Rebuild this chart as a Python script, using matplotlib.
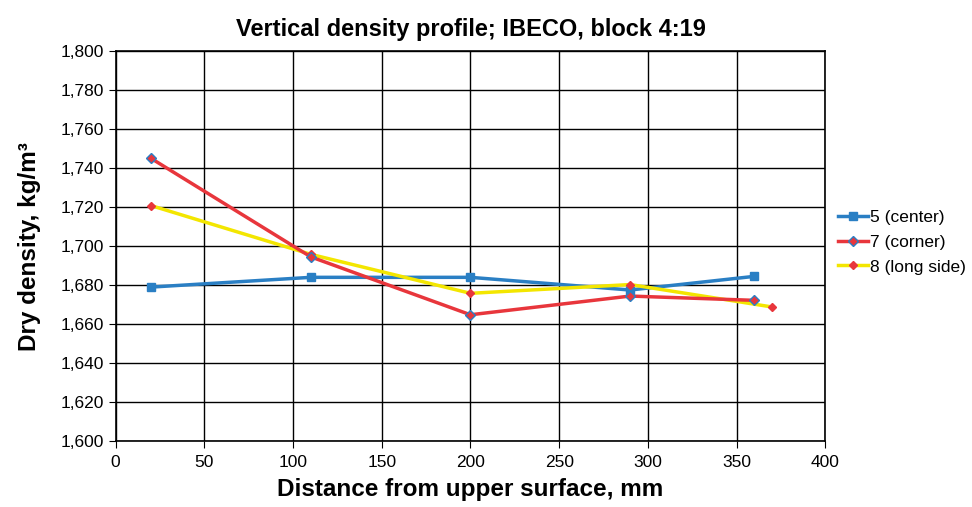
import numpy as np
import matplotlib.pyplot as plt
from matplotlib.ticker import FuncFormatter, MultipleLocator

plt.rcParams['font.family'] = ['Liberation Sans', 'DejaVu Sans']

# --------------------------------------------------
# Data
# --------------------------------------------------

center_x = [20, 110, 200, 290, 360]
center_y = [1679, 1684, 1684, 1677.5, 1684.5]

corner_x = [20, 110, 200, 290, 360]
corner_y = [1745, 1694.5, 1664.8, 1674.4, 1672.2]

long_x = [20, 110, 200, 290, 370]
long_y = [1720.8, 1695.8, 1675.8, 1680.3, 1668.8]

labels = ["5 (center)", "7 (corner)", "8 (long side)"]

# --------------------------------------------------
# Plot
# --------------------------------------------------

fig = plt.figure(figsize=(9.72, 5.07), dpi=100)
ax = fig.add_axes([0.119, 0.130, 0.730, 0.769])

ax.plot(center_x, center_y, color="#2a7fc4", lw=2.5, marker="s", ms=5.5,
        label=labels[0], zorder=3)
ax.plot(corner_x, corner_y, color="#e8363c", lw=2.5, marker="D", ms=5.5,
        mfc="#e8363c", mec="#2a7fc4", mew=1.0, label=labels[1], zorder=4)
ax.plot(long_x, long_y, color="#f3e600", lw=2.5, marker="D", ms=4,
        mfc="#e8363c", mec="#e8363c", label=labels[2], zorder=3)

ax.set_xlim(0, 400)
ax.set_ylim(1600, 1800)
ax.xaxis.set_major_locator(MultipleLocator(50))
ax.yaxis.set_major_locator(MultipleLocator(20))
ax.yaxis.set_major_formatter(FuncFormatter(lambda v, p: f"{v:,.0f}"))

ax.grid(True, color="black", lw=1.0)
ax.set_axisbelow(True)
for s in ax.spines.values():
    s.set_color("black")
    s.set_linewidth(1.2)
ax.tick_params(labelsize=12.5, length=5, color="black", direction="out")
ax.tick_params(axis="x", pad=5)

ax.set_title("Vertical density profile; IBECO, block 4:19",
             fontsize=17, fontweight="bold", pad=11)
ax.set_xlabel("Distance from upper surface, mm", fontsize=17.5,
              fontweight="bold", labelpad=6)
ax.set_ylabel("Dry density, kg/m³", fontsize=17.5, fontweight="bold",
              labelpad=14)

ax.legend(loc="center left", bbox_to_anchor=(1.006, 0.51), frameon=False,
          fontsize=12.5, handlelength=1.7, handletextpad=0.15,
          labelspacing=0.55, borderaxespad=0.3, borderpad=0.2)

plt.savefig("out.png", dpi=100)
